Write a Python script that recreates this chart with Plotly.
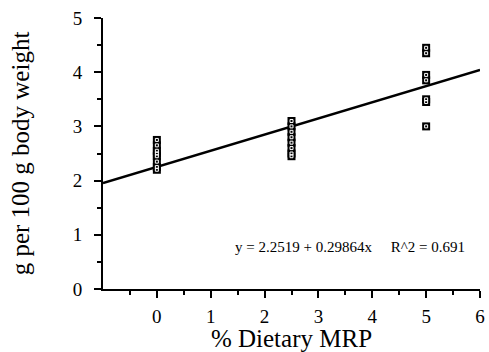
import plotly.graph_objects as go

# data
x0_vals = [0]*8
y0_vals = [2.75, 2.65, 2.55, 2.5, 2.45, 2.35, 2.25, 2.2]
x25_vals = [2.5]*8
y25_vals = [3.1, 3.0, 2.9, 2.8, 2.7, 2.6, 2.5, 2.45]
x5_vals = [5]*7
y5_vals = [4.45, 4.35, 3.95, 3.85, 3.5, 3.45, 3.0]
intercept = 2.2519
slope = 0.29864
fit_x = [-1, 6]
x_ticks = [0, 1, 2, 3, 4, 5, 6]
y_ticks = [0, 1, 2, 3, 4, 5]
x_minor = [-0.5, 0.5, 1.5, 2.5, 3.5, 4.5, 5.5]
y_minor = [0.5, 1.5, 2.5, 3.5, 4.5]

xs = x0_vals + x25_vals + x5_vals
ys = y0_vals + y25_vals + y5_vals
fit_y = [intercept + slope * v for v in fit_x]

serif = "Liberation Serif, Times New Roman, serif"

fig = go.Figure()
fig.add_trace(go.Scatter(x=fit_x, y=fit_y, mode="lines",
                         line=dict(color="black", width=2.5), showlegend=False))
fig.add_trace(go.Scatter(x=xs, y=ys, mode="markers",
                         marker=dict(symbol="square", size=8, color="black",
                                     line=dict(width=0)), showlegend=False))
fig.add_trace(go.Scatter(x=xs, y=ys, mode="markers",
                         marker=dict(symbol="square-open", size=3, color="white",
                                     line=dict(width=1, color="#aaaaaa")), showlegend=False))

fig.add_annotation(x=1.42, y=0.78, xref="x", yref="y", xanchor="left", yanchor="middle",
                   text="y = 2.2519 + 0.29864x     R^2 = 0.691", showarrow=False,
                   font=dict(family=serif, size=15, color="black"))

fig.update_layout(
    width=489, height=352,
    margin=dict(l=103, r=9, t=18, b=63, autoexpand=False),
    paper_bgcolor="white", plot_bgcolor="white",
    font=dict(family=serif, size=19, color="black"),
)
fig.update_xaxes(range=[-1, 6], tickvals=x_ticks, ticks="outside", ticklen=7,
                 tickwidth=2, tickcolor="black", automargin=False,
                 minor=dict(tickvals=x_minor, ticks="outside", ticklen=4,
                            tickcolor="black", tickwidth=2, showgrid=False),
                 showline=True, linecolor="black", linewidth=2, showgrid=False, zeroline=False,
                 title=dict(text="% Dietary MRP", font=dict(family=serif, size=25), standoff=0),
                 tickfont=dict(size=19), ticklabelstandoff=2)
fig.update_yaxes(range=[0, 5], tickvals=y_ticks, ticks="outside", ticklen=7,
                 tickwidth=2, tickcolor="black", automargin=False,
                 minor=dict(tickvals=y_minor, ticks="outside", ticklen=4,
                            tickcolor="black", tickwidth=2, showgrid=False),
                 showline=True, linecolor="black", linewidth=2, showgrid=False, zeroline=False,
                 title=dict(text="g per 100 g body weight", font=dict(family=serif, size=25), standoff=36),
                 tickfont=dict(size=19), ticklabelstandoff=8)

fig.write_html("out.html", config={"displayModeBar": False},
               post_script="document.body.style.margin='0';document.body.style.overflow='hidden';")
